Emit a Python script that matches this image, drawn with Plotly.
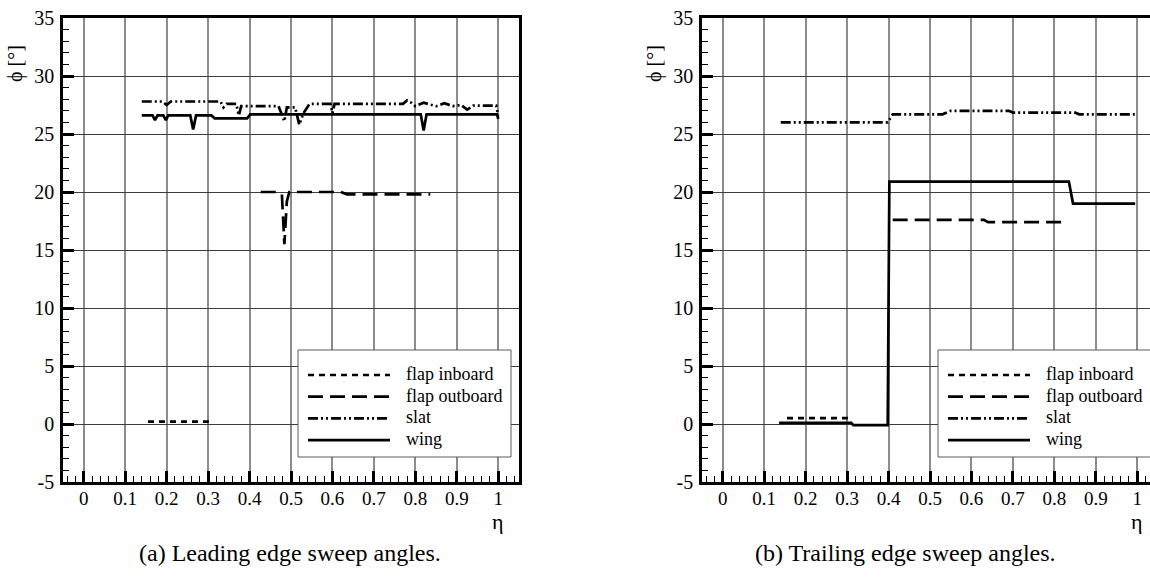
import plotly.graph_objects as go

# ---------------- data ----------------
series_names = ["flap inboard", "flap outboard", "slat", "wing"]

# (a) leading edge sweep angles
le_flap_in_x = [0.155, 0.20, 0.25, 0.305]
le_flap_in_y = [0.2, 0.2, 0.2, 0.2]

le_flap_out_x = [0.427, 0.47, 0.478, 0.484, 0.49, 0.496, 0.55, 0.62, 0.635, 0.70, 0.836]
le_flap_out_y = [20.0, 20.0, 19.8, 15.5, 19.2, 20.0, 20.0, 20.0, 19.8, 19.8, 19.8]

le_slat_x = [0.14, 0.19, 0.20, 0.21, 0.33, 0.337, 0.345, 0.368, 0.374, 0.38, 0.47, 0.484,
             0.49, 0.51, 0.52, 0.53, 0.545, 0.595, 0.60, 0.605, 0.77, 0.78, 0.79, 0.80,
             0.82, 0.85, 0.87, 0.89, 0.91, 0.925, 0.94, 0.995, 1.0]
le_slat_y = [27.8, 27.8, 27.5, 27.8, 27.8, 27.3, 27.6, 27.6, 26.6, 27.4, 27.4, 26.1,
             27.3, 27.3, 25.8, 26.8, 27.6, 27.6, 26.8, 27.6, 27.6, 27.9, 27.7, 27.4,
             27.7, 27.4, 27.65, 27.4, 27.5, 27.1, 27.45, 27.45, 26.6]

le_wing_x = [0.14, 0.166, 0.172, 0.178, 0.192, 0.198, 0.204, 0.257, 0.264, 0.271, 0.308,
             0.316, 0.394, 0.402, 0.813, 0.82, 0.827, 0.997, 1.0]
le_wing_y = [26.6, 26.6, 26.2, 26.6, 26.6, 26.2, 26.6, 26.6, 25.4, 26.6, 26.6,
             26.35, 26.35, 26.7, 26.7, 25.3, 26.7, 26.7, 26.3]

# (b) trailing edge sweep angles
te_flap_in_x = [0.155, 0.23, 0.31]
te_flap_in_y = [0.5, 0.5, 0.5]

te_flap_out_x = [0.41, 0.63, 0.64, 0.83]
te_flap_out_y = [17.6, 17.6, 17.4, 17.4]

te_slat_x = [0.14, 0.398, 0.41, 0.53, 0.55, 0.69, 0.70, 0.85, 0.86, 0.998]
te_slat_y = [26.0, 26.0, 26.7, 26.7, 27.0, 27.0, 26.85, 26.85, 26.7, 26.7]

te_wing_x = [0.136, 0.31, 0.315, 0.398, 0.402, 0.835, 0.845, 0.995]
te_wing_y = [0.1, 0.1, -0.1, -0.1, 20.9, 20.9, 19.0, 19.0]

x_ticks = [0, 0.1, 0.2, 0.3, 0.4, 0.5, 0.6, 0.7, 0.8, 0.9, 1]
x_ticklabels = ["0", "0.1", "0.2", "0.3", "0.4", "0.5", "0.6", "0.7", "0.8", "0.9", "1"]
y_ticks = [-5, 0, 5, 10, 15, 20, 25, 30, 35]
y_ticklabels = ["-5", "0", "5", "10", "15", "20", "25", "30", "35"]
captions = ["(a) Leading edge sweep angles.", "(b) Trailing edge sweep angles."]

# ---------------- styling ----------------
W, H = 1150, 584
TOP, BOT = 18, 482
SERIF = "Liberation Serif, Times New Roman, serif"
dashes = ["6px,5px", "15px,7px", "10px,3px,2px,3px,2px,3px", "solid"]
LW = 2.7

fig = go.Figure()

panels = [
    ("x", "y", [(le_flap_in_x, le_flap_in_y), (le_flap_out_x, le_flap_out_y),
                (le_slat_x, le_slat_y), (le_wing_x, le_wing_y)]),
    ("x2", "y2", [(te_flap_in_x, te_flap_in_y), (te_flap_out_x, te_flap_out_y),
                  (te_slat_x, te_slat_y), (te_wing_x, te_wing_y)]),
]
for xa, ya, data in panels:
    for name, dash, (xs, ys) in zip(series_names, dashes, data):
        fig.add_trace(go.Scatter(x=xs, y=ys, mode="lines", name=name, showlegend=False,
                                 xaxis=xa, yaxis=ya,
                                 line=dict(color="black", width=LW, dash=dash)))

def xaxis_cfg(domain, rng, anchor):
    return dict(domain=domain, range=rng, anchor=anchor,
                tickmode="array", tickvals=x_ticks, ticktext=x_ticklabels,
                ticks="inside", ticklen=11, tickwidth=2.5, tickcolor="black",
                showline=True, linewidth=2.5, linecolor="black", mirror=True,
                showgrid=True, gridcolor="#8c8c8c", gridwidth=1.5, zeroline=False,
                minor=dict(tickmode="linear", tick0=0, dtick=0.02, ticks="inside",
                           ticklen=6, tickwidth=1.2, tickcolor="black", showgrid=False),
                tickfont=dict(family=SERIF, size=19, color="black"),
                ticklabelstandoff=-3)

def yaxis_cfg(anchor, mirror):
    return dict(domain=[0, 1], range=[-5, 35], anchor=anchor,
                tickmode="array", tickvals=y_ticks, ticktext=y_ticklabels,
                ticks="inside", ticklen=11, tickwidth=2.5, tickcolor="black",
                showline=True, linewidth=2.5, linecolor="black", mirror=mirror,
                showgrid=True, gridcolor="#3c3c3c", gridwidth=1, zeroline=False,
                minor=dict(tickmode="linear", tick0=0, dtick=1, ticks="inside",
                           ticklen=6, tickwidth=1.2, tickcolor="black", showgrid=False),
                tickfont=dict(family=SERIF, size=20, color="black"),
                ticklabelstandoff=2)

d1 = [63 / W, 519 / W]
d2 = [702 / W, 1.0]
r2_right = -0.05 + 1.10 * (W - 702) / (519 - 63)

def px_x(px):
    return px / W

def px_y(py):
    return (BOT - py) / (BOT - TOP)

fig.update_layout(
    width=W, height=H,
    margin=dict(l=0, r=0, t=TOP, b=H - BOT, autoexpand=False),
    paper_bgcolor="white", plot_bgcolor="white",
    xaxis=xaxis_cfg(d1, [-0.05, 1.05], "y"),
    yaxis=yaxis_cfg("x", True),
    xaxis2=xaxis_cfg(d2, [-0.05, r2_right], "y2"),
    yaxis2=yaxis_cfg("x2", False),
    showlegend=False,
)

annotations = []
shapes = []
txt_font = dict(family=SERIF, size=20, color="black")

# legends (one per panel), built from the series names and line styles
for box_left in (298, 938):
    shapes.append(dict(type="rect", xref="paper", yref="paper",
                       x0=px_x(box_left), x1=px_x(box_left + 213),
                       y0=px_y(350), y1=px_y(457),
                       line=dict(color="#5a5a5a", width=1), fillcolor="white", layer="above"))
    for i, (name, dash) in enumerate(zip(series_names, dashes)):
        yc = 375 + i * 21.7
        shapes.append(dict(type="line", xref="paper", yref="paper",
                           x0=px_x(box_left + 10), x1=px_x(box_left + 92),
                           y0=px_y(yc), y1=px_y(yc), layer="above",
                           line=dict(color="black", width=LW, dash=dash)))
        annotations.append(dict(text=name, x=px_x(box_left + 106), y=px_y(yc - 1),
                                xref="paper", yref="paper", xanchor="left", yanchor="middle",
                                showarrow=False,
                                font=dict(family=SERIF, size=18, color="black")))

for lx in (15, 654):
    annotations.append(dict(text="ϕ [°]", x=px_x(lx), y=px_y(64), xref="paper", yref="paper",
                            xanchor="center", yanchor="middle",
                            textangle=-90, showarrow=False, font=txt_font))
for xr in ("x", "x2"):
    annotations.append(dict(text="η", x=1.0, y=px_y(521), xref=xr, yref="paper",
                            xanchor="center", yanchor="middle",
                            showarrow=False, font=dict(family=SERIF, size=22, color="black")))
for cap, cx in zip(captions, (290, 905)):
    annotations.append(dict(text=cap, x=px_x(cx), y=px_y(553), xref="paper", yref="paper",
                            xanchor="center", yanchor="middle",
                            showarrow=False, font=dict(family=SERIF, size=24, color="black")))

fig.update_layout(annotations=annotations, shapes=shapes)

fig.write_html("out.html")
